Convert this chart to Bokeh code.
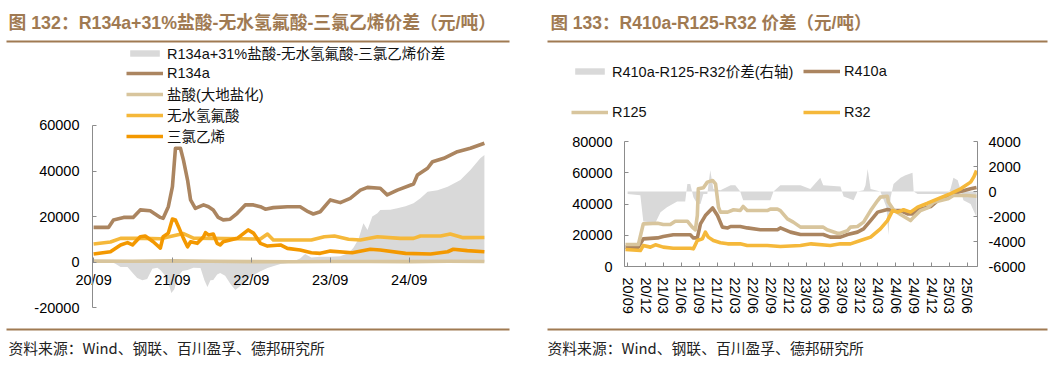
import datetime as dt
import pandas as pd
from bokeh.plotting import figure
from bokeh.models import Range1d, LinearAxis, FixedTicker, Legend, LegendItem
from bokeh.layouts import row, column
from bokeh.embed import file_html
from bokeh.resources import INLINE
from bokeh.core.properties import value

# ---------------- texts ----------------
title_left = "图 132：R134a+31%盐酸-无水氢氟酸-三氯乙烯价差（元/吨）"
title_right = "图 133：R410a-R125-R32 价差（元/吨）"
source_text = "资料来源：Wind、钢联、百川盈孚、德邦研究所"

# ---------------- left chart data ----------------
left_names = ["R134a+31%盐酸-无水氢氟酸-三氯乙烯价差", "R134a", "盐酸(大地盐化)", "无水氢氟酸", "三氯乙烯"]
left_xtick_labels = ["20/09", "21/09", "22/09", "23/09", "24/09"]
left_yticks = [-20000, 0, 20000, 40000, 60000]

spread_dates = ["2020-09-01", "2020-11-18", "2020-12-11", "2021-01-04", "2021-02-05", "2021-03-03",
                "2021-03-22", "2021-04-15", "2021-05-07", "2021-05-31", "2021-06-23", "2021-07-07",
                "2021-07-30", "2021-08-13", "2021-08-27", "2021-09-10", "2021-09-24", "2021-10-17",
                "2021-11-10", "2021-12-07", "2022-01-09", "2022-01-27", "2022-02-10", "2022-02-24",
                "2022-03-09", "2022-03-27", "2022-04-10", "2022-05-03", "2022-05-26", "2022-06-19",
                "2022-07-12", "2022-08-04", "2022-08-27", "2022-10-04", "2022-11-15", "2022-12-22",
                "2023-01-14", "2023-03-01", "2023-04-15", "2023-05-08", "2023-06-06", "2023-07-17",
                "2023-09-02", "2023-10-18", "2023-11-25", "2023-12-17", "2024-01-10", "2024-02-02",
                "2024-02-21", "2024-03-14", "2024-04-07", "2024-04-20", "2024-06-06", "2024-07-08",
                "2024-08-15", "2024-09-21", "2024-10-23", "2024-11-25", "2025-01-10", "2025-02-26",
                "2025-04-26", "2025-06-11", "2025-07-27", "2025-08-15"]
spread_vals = [300, 200, -800, -2200, -2200, -5000,
               -7000, -8000, -7500, -3000, -2500, -3500,
               -6000, -9000, -13600, -12000, -6600, -4000,
               -3500, -2500, -2600, -8000, -11000, -8000,
               -7900, -5500, -4800, -6000, -9500, -12300,
               -10500, -9000, -6600, -4500, -2600, -1500,
               -900, -300, 1500, 3500, 2000, 2300,
               2300, 2500, 4000, 6100, 10000, 17000,
               14100, 20000, 21400, 22900, 23000, 23600,
               24500, 25800, 28000, 30900, 31500, 33100,
               36000, 40400, 45600, 47000]

r134a_dates = ["2020-09-01", "2020-11-09", "2020-12-02", "2021-01-18", "2021-03-03", "2021-04-05",
               "2021-05-21", "2021-07-07", "2021-07-20", "2021-08-13", "2021-09-01", "2021-09-15",
               "2021-10-08", "2021-10-22", "2021-11-10", "2021-11-24", "2021-12-16", "2022-01-23",
               "2022-02-15", "2022-03-09", "2022-04-01", "2022-04-24", "2022-05-26", "2022-06-28",
               "2022-08-04", "2022-09-11", "2022-10-13", "2022-11-05", "2022-12-12", "2023-02-15",
               "2023-04-15", "2023-05-22", "2023-06-15", "2023-07-17", "2023-09-02", "2023-10-18",
               "2023-12-03", "2024-01-19", "2024-02-21", "2024-04-20", "2024-05-22", "2024-07-08",
               "2024-09-21", "2024-10-09", "2024-11-25", "2024-12-18", "2025-02-08", "2025-04-12",
               "2025-06-11", "2025-08-15"]
r134a_vals = [15200, 15200, 18500, 19600, 19600, 22900,
              22500, 19600, 19200, 24300, 33100, 50000,
              50000, 44800, 36000, 27300, 23600, 25100,
              24300, 22900, 19600, 18500, 18800, 21400,
              25100, 25100, 24300, 23200, 23900, 24300,
              24300, 22100, 21100, 22100, 27300, 26100,
              28000, 31600, 32800, 32400, 29500, 31600,
              34300, 38200, 41200, 44100, 45600, 48500,
              50000, 52200]

hcl_dates = ["2020-09-01", "2021-03-01", "2021-09-01", "2022-03-01", "2022-09-01", "2023-03-01",
             "2023-09-01", "2024-03-01", "2024-09-01", "2025-03-01", "2025-08-15"]
hcl_vals = [400, 300, 500, 300, 150, 100, 200, 250, 150, 300, 250]

hf_dates = ["2020-09-01", "2020-11-18", "2021-01-04", "2021-04-19", "2021-07-07", "2021-09-01",
            "2021-10-22", "2021-12-07", "2022-10-13", "2022-11-15", "2022-12-12", "2023-06-06",
            "2023-08-05", "2023-09-21", "2023-11-25", "2024-01-19", "2024-04-07", "2024-07-22",
            "2024-09-21", "2024-10-23", "2025-01-24", "2025-03-10", "2025-05-09", "2025-08-15"]
hf_vals = [7900, 8800, 10400, 10400, 10200, 11400,
           12500, 10500, 10100, 12300, 9700, 9700,
           11100, 11400, 10000, 9700, 11100, 10400,
           10400, 11400, 11400, 12300, 10700, 10800]

tce_dates = ["2020-09-01", "2020-11-18", "2021-01-04", "2021-02-05", "2021-02-28", "2021-04-05",
             "2021-04-28", "2021-06-04", "2021-07-07", "2021-07-20", "2021-08-13", "2021-09-01",
             "2021-09-15", "2021-09-29", "2021-10-22", "2021-11-10", "2021-11-24", "2021-12-25",
             "2022-01-23", "2022-02-01", "2022-02-15", "2022-03-09", "2022-03-27", "2022-04-10",
             "2022-04-24", "2022-06-28", "2022-08-18", "2022-09-11", "2022-10-13", "2022-11-15",
             "2023-01-14", "2023-02-15", "2023-04-15", "2023-06-06", "2023-07-17", "2023-09-02",
             "2023-12-12", "2024-03-05", "2024-04-20", "2024-08-15", "2024-12-09", "2025-02-26",
             "2025-03-24", "2025-05-28", "2025-08-15"]
tce_vals = [3500, 4500, 7500, 8500, 7500, 11100,
            11400, 8900, 6100, 11100, 12700, 18900,
            18500, 15500, 10400, 6700, 8900, 8200,
            11100, 12900, 11900, 12300, 8200, 7500,
            8900, 10400, 14100, 12700, 8200, 7000,
            7500, 6000, 5300, 4100, 3800, 4800,
            4100, 5600, 5300, 3800, 3500, 4500,
            5600, 5000, 4500]

# ---------------- right chart data ----------------
right_names = ["R410a-R125-R32价差(右轴)", "R410a", "R125", "R32"]
right_xtick_labels = ["20/09", "20/12", "21/03", "21/06", "21/09", "21/12", "22/03", "22/06",
                      "22/09", "22/12", "23/03", "23/06", "23/09", "23/12", "24/03", "24/06",
                      "24/09", "24/12", "25/03", "25/06"]
right_yticks = [0, 20000, 40000, 60000, 80000]
right_y2ticks = [-6000, -4000, -2000, 0, 2000, 4000]

r410a_dates = ["2020-08-20", "2020-10-25", "2020-11-19", "2021-01-31", "2021-03-01", "2021-04-21",
               "2021-07-17", "2021-08-02", "2021-08-22", "2021-09-07", "2021-10-02", "2021-11-08",
               "2021-12-03", "2021-12-28", "2022-01-24", "2022-02-08", "2022-03-29", "2022-05-04",
               "2022-07-10", "2022-10-05", "2022-10-20", "2022-12-11", "2023-01-31", "2023-05-27",
               "2023-07-02", "2023-08-23", "2023-09-28", "2023-11-18", "2023-12-19", "2024-01-24",
               "2024-02-29", "2024-04-19", "2024-05-20", "2024-06-25", "2024-07-31", "2024-08-31",
               "2024-09-20", "2024-11-26", "2025-01-01", "2025-02-01", "2025-03-07", "2025-04-13",
               "2025-06-18", "2025-07-18"]
r410a_vals = [12400, 12400, 17700, 18300, 19200, 20300,
              20300, 18300, 18300, 27300, 32600, 37500,
              32600, 25200, 24700, 25600, 25600, 24700,
              23500, 23500, 24700, 22000, 20500, 20500,
              18800, 18800, 20500, 22000, 24100, 29400,
              34800, 36500, 35800, 35800, 33700, 33700,
              36300, 38400, 42200, 43300, 45400, 47500,
              49700, 50500]

r125_dates = ["2020-08-20", "2020-10-25", "2020-11-19", "2021-01-31", "2021-03-01", "2021-04-06",
              "2021-05-01", "2021-07-02", "2021-07-27", "2021-08-12", "2021-08-22", "2021-08-27",
              "2021-09-22", "2021-10-12", "2021-11-08", "2021-11-23", "2021-12-08", "2021-12-18",
              "2022-01-24", "2022-02-23", "2022-03-29", "2022-04-13", "2022-05-04", "2022-08-14",
              "2022-08-30", "2022-10-05", "2022-10-20", "2022-11-25", "2022-12-25", "2023-01-31",
              "2023-05-27", "2023-06-16", "2023-08-07", "2023-08-23", "2023-09-28", "2023-10-13",
              "2023-11-18", "2023-12-19", "2024-01-24", "2024-02-29", "2024-03-14", "2024-04-19",
              "2024-04-24", "2024-05-20", "2024-06-25", "2024-08-15", "2024-08-31", "2024-10-05",
              "2024-11-10", "2024-12-11", "2025-02-21", "2025-03-22", "2025-06-02", "2025-07-18"]
r125_vals = [14100, 14100, 27300, 27700, 26900, 26900,
             29000, 29000, 25200, 23500, 32600, 49700,
             50400, 54000, 55000, 52900, 38000, 34800,
             34800, 36300, 35800, 38400, 35800, 35800,
             36700, 36700, 35800, 30500, 28400, 25200,
             25200, 23500, 21300, 21300, 23000, 25200,
             25600, 28400, 35800, 42200, 44400, 45000,
             41200, 36300, 33300, 29400, 31600, 35800,
             37500, 41200, 43300, 45400, 45400, 45000]

r32_dates = ["2020-08-20", "2020-11-04", "2020-11-19", "2020-12-25", "2021-01-20", "2021-03-01",
             "2021-04-21", "2021-07-17", "2021-08-02", "2021-08-22", "2021-09-17", "2021-10-02",
             "2021-10-17", "2021-11-12", "2021-12-18", "2022-01-24", "2022-03-29", "2022-05-04",
             "2022-08-14", "2022-10-20", "2023-01-31", "2023-03-26", "2023-07-02", "2023-08-23",
             "2023-10-13", "2023-12-03", "2024-01-24", "2024-03-14", "2024-04-19", "2024-05-15",
             "2024-06-10", "2024-07-10", "2024-08-15", "2024-09-20", "2024-11-10", "2025-01-01",
             "2025-03-07", "2025-04-28", "2025-06-18", "2025-07-05", "2025-07-18"]
r32_vals = [10900, 10200, 13400, 12400, 13900, 12400,
            11700, 11700, 11300, 16600, 17700, 22000,
            18800, 16600, 15200, 14500, 14500, 13400,
            13400, 12800, 13400, 14500, 13400, 14500,
            14500, 16600, 18800, 24100, 29400, 35800,
            34800, 36300, 34800, 38000, 40500, 43300,
            46600, 49700, 54000, 57500, 61400]

gap_dates = ["2020-08-31", "2020-11-04", "2020-11-19", "2021-01-20", "2021-02-15", "2021-03-20",
             "2021-05-11", "2021-06-21", "2021-07-02", "2021-07-17", "2021-08-02", "2021-08-22",
             "2021-09-07", "2021-09-22", "2021-10-12", "2021-10-27", "2021-11-12", "2021-12-18",
             "2022-02-08", "2022-03-04", "2022-03-29", "2022-04-13", "2022-08-30", "2022-09-15",
             "2022-10-20", "2023-01-31", "2023-03-22", "2023-05-12", "2023-05-27", "2023-08-23",
             "2023-09-08", "2023-10-29", "2023-11-18", "2023-12-19", "2023-12-29", "2024-01-09",
             "2024-01-24", "2024-03-14", "2024-04-14", "2024-04-24", "2024-05-05", "2024-05-20",
             "2024-06-25", "2024-07-20", "2024-08-25", "2024-08-31", "2024-09-20", "2025-02-21",
             "2025-03-07", "2025-03-22", "2025-04-13", "2025-04-28", "2025-05-12", "2025-06-18",
             "2025-07-18"]
gap_vals = [-200, -300, -2400, -2500, -1650, -1250,
            -800, -800, 600, 600, -450, -1000,
            -1000, -200, -200, 1700, 200, 100,
            500, 500, 0, -700, -700, 0,
            500, 500, 200, 1100, 500, 400,
            -400, -700, 0, 100, 500, 1800,
            200, 0, -1250, -3500, -500, 600,
            1100, 1300, 1500, 0, -200, -200,
            200, 1100, 900, 100, -700, -1000,
            -2050]

# ---------------- styles ----------------
BROWN = "#AB8560"
TAN = "#D8C59D"
GOLD = "#F5B83A"
ORANGE = "#F39800"
GRAY = "#D9D9D9"
TITLE_C = "#A07A52"
AXIS_C = "#8C8C8C"
FONT = "Liberation Sans, Noto Sans CJK SC"
CJK = "Noto Sans CJK SC"
TICK_FS = "14.5px"
LW = 3.6
LEFT_W, RIGHT_W = 530, 533


def d(lst):
    return pd.to_datetime(lst)


def to_ms(dates):
    return [int((t - dt.datetime(1970, 1, 1)).total_seconds() * 1000) for t in dates]


def decor(width, height):
    p = figure(width=width, height=height, x_range=Range1d(0, width), y_range=Range1d(height, 0),
               toolbar_location=None, output_backend="svg", min_border=0,
               x_axis_location=None, y_axis_location=None, outline_line_color=None,
               frame_align=False)
    p.grid.visible = False
    return p


def header(width, height, text, tx, r0, r1, size):
    p = decor(width, height)
    p.text(x=[tx], y=[22], text=[text], text_font=value(FONT), text_font_size=size,
           text_font_style="bold", text_color=TITLE_C, text_baseline="middle", text_align="left")
    p.line([r0, r1], [41, 41], line_width=2, line_color=TITLE_C)
    return p


def footer(width, tx, r0, r1):
    p = decor(width, 46)
    p.line([r0, r1], [7, 7], line_width=2, line_color=TITLE_C)
    p.text(x=[tx], y=[25], text=[source_text], text_font=value(CJK), text_font_size="14.8px",
           text_color="#222222", text_baseline="middle", text_align="left")
    return p


def style_axis(ax, ticks, standoff, tick_in=4):
    ax.ticker = FixedTicker(ticks=ticks)
    ax.axis_line_color = AXIS_C
    ax.major_tick_line_color = AXIS_C
    ax.minor_tick_line_color = None
    ax.major_tick_in = tick_in
    ax.major_tick_out = 0
    ax.major_label_standoff = standoff
    ax.major_label_text_font = FONT
    ax.major_label_text_font_size = TICK_FS
    ax.major_label_text_color = "#000000"


legend_style = dict(orientation="vertical", padding=0, glyph_width=37, glyph_height=8,
                    label_height=20, label_standoff=4, label_text_font=FONT,
                    label_text_font_size=TICK_FS, label_text_color="#111111",
                    background_fill_alpha=0, border_line_color=None)

# ---------------- left chart ----------------
# the frame reaches past the y axis so that edge tick labels are not cut
pl = figure(width=LEFT_W, height=276, x_axis_type="datetime",
            x_range=Range1d(dt.datetime(2019, 11, 14), dt.datetime(2025, 9, 3)),
            y_range=Range1d(-26593, 94725), toolbar_location=None, output_backend="svg",
            min_border_left=30, min_border_right=42,
            min_border_top=0, min_border_bottom=0, outline_line_color=None, frame_align=False)
pl.grid.visible = False
style_axis(pl.yaxis[0], left_yticks, 13)
pl.yaxis[0].fixed_location = to_ms([dt.datetime(2020, 8, 27)])[0]
pl.yaxis[0].bounds = (left_yticks[0], left_yticks[-1])
pl.yaxis[0].major_label_overrides = {t: str(t) for t in left_yticks}

lt_ms = to_ms([dt.datetime(2000 + int(s[:2]), int(s[3:]), 1) for s in left_xtick_labels])
style_axis(pl.xaxis[0], lt_ms, 10, tick_in=5)
pl.xaxis[0].fixed_location = 0
pl.xaxis[0].axis_line_color = None
pl.xaxis[0].major_label_overrides = dict(zip(lt_ms, left_xtick_labels))

ra = pl.varea(x=d(spread_dates), y1=0, y2=spread_vals, fill_color=GRAY)
rb = pl.line(d(r134a_dates), r134a_vals, line_color=BROWN, line_width=LW, line_join="round")
rc = pl.line(d(hcl_dates), hcl_vals, line_color=TAN, line_width=LW, line_join="round")
rd = pl.line(d(hf_dates), hf_vals, line_color=GOLD, line_width=LW, line_join="round")
re_ = pl.line(d(tce_dates), tce_vals, line_color=ORANGE, line_width=LW, line_join="round")

leg_l = Legend(items=[LegendItem(label=n, renderers=[r]) for n, r in
                      zip(left_names, [ra, rb, rc, rd, re_])],
               location=(96, 176), spacing=0, **legend_style)
pl.add_layout(leg_l)

# ---------------- right chart: header with legend ----------------
RH_H = 130
hr = header(RIGHT_W, RH_H, title_right, 20, 17, 517, "17.5px")
# legend proxies kept outside the visible area of the header
kg = hr.varea(x=[-20, -10], y1=[-20, -20], y2=[-10, -10], fill_color=GRAY)
k1 = hr.line(x=[-20, -10], y=[-20, -20], line_color=BROWN, line_width=LW)
k2 = hr.line(x=[-20, -10], y=[-20, -20], line_color=TAN, line_width=LW)
k3 = hr.line(x=[-20, -10], y=[-20, -20], line_color=GOLD, line_width=LW)
leg_r1 = Legend(items=[LegendItem(label=right_names[0], renderers=[kg]),
                       LegendItem(label=right_names[2], renderers=[k2])],
                location=(41, 8), spacing=21, **legend_style)
leg_r2 = Legend(items=[LegendItem(label=right_names[1], renderers=[k1]),
                       LegendItem(label=right_names[3], renderers=[k3])],
                location=(273, 8), spacing=21, **legend_style)
hr.add_layout(leg_r1)
hr.add_layout(leg_r2)

# ---------------- right chart ----------------
pr = figure(width=RIGHT_W, height=322 - RH_H, x_axis_type="datetime",
            x_range=Range1d(dt.datetime(2020, 8, 15), dt.datetime(2025, 7, 23)),
            y_range=Range1d(0, 87040), toolbar_location=None, output_backend="svg",
            min_border_left=94, min_border_right=86, min_border_top=0, min_border_bottom=56,
            outline_line_color=None, frame_align=False)
pr.grid.visible = False
pr.extra_y_ranges = {"gap": Range1d(-6000, 4880)}
y2 = LinearAxis(y_range_name="gap")
pr.add_layout(y2, "right")

style_axis(pr.yaxis[0], right_yticks, 12)
pr.yaxis[0].bounds = (right_yticks[0], right_yticks[-1])
pr.yaxis[0].major_label_overrides = {t: str(t) for t in right_yticks}
style_axis(y2, right_y2ticks, 11)
y2.bounds = (right_y2ticks[0], right_y2ticks[-1])
y2.major_label_overrides = {t: str(t) for t in right_y2ticks}

rt_ms = to_ms([dt.datetime(2000 + int(s[:2]), int(s[3:]), 1) for s in right_xtick_labels])
style_axis(pr.xaxis[0], rt_ms, 11)
pr.xaxis[0].major_label_overrides = dict(zip(rt_ms, right_xtick_labels))
pr.xaxis[0].major_label_orientation = "vertical"

pr.varea(x=d(gap_dates), y1=0, y2=gap_vals, fill_color=GRAY, y_range_name="gap")
pr.line(d(r410a_dates), r410a_vals, line_color=BROWN, line_width=LW, line_join="round")
pr.line(d(r125_dates), r125_vals, line_color=TAN, line_width=LW, line_join="round")
pr.line(d(r32_dates), r32_vals, line_color=GOLD, line_width=LW, line_join="round")

# ---------------- layout ----------------
left_col = column(header(LEFT_W, 46, title_left, 8, 6, 509, "17.8px"), pl,
                  footer(LEFT_W, 8, 6, 509), spacing=0)
right_col = column(hr, pr, footer(RIGHT_W, 17, 17, 517), spacing=0)
layout = row(left_col, right_col, spacing=0)

open("out.html", "w").write(file_html(layout, INLINE))
